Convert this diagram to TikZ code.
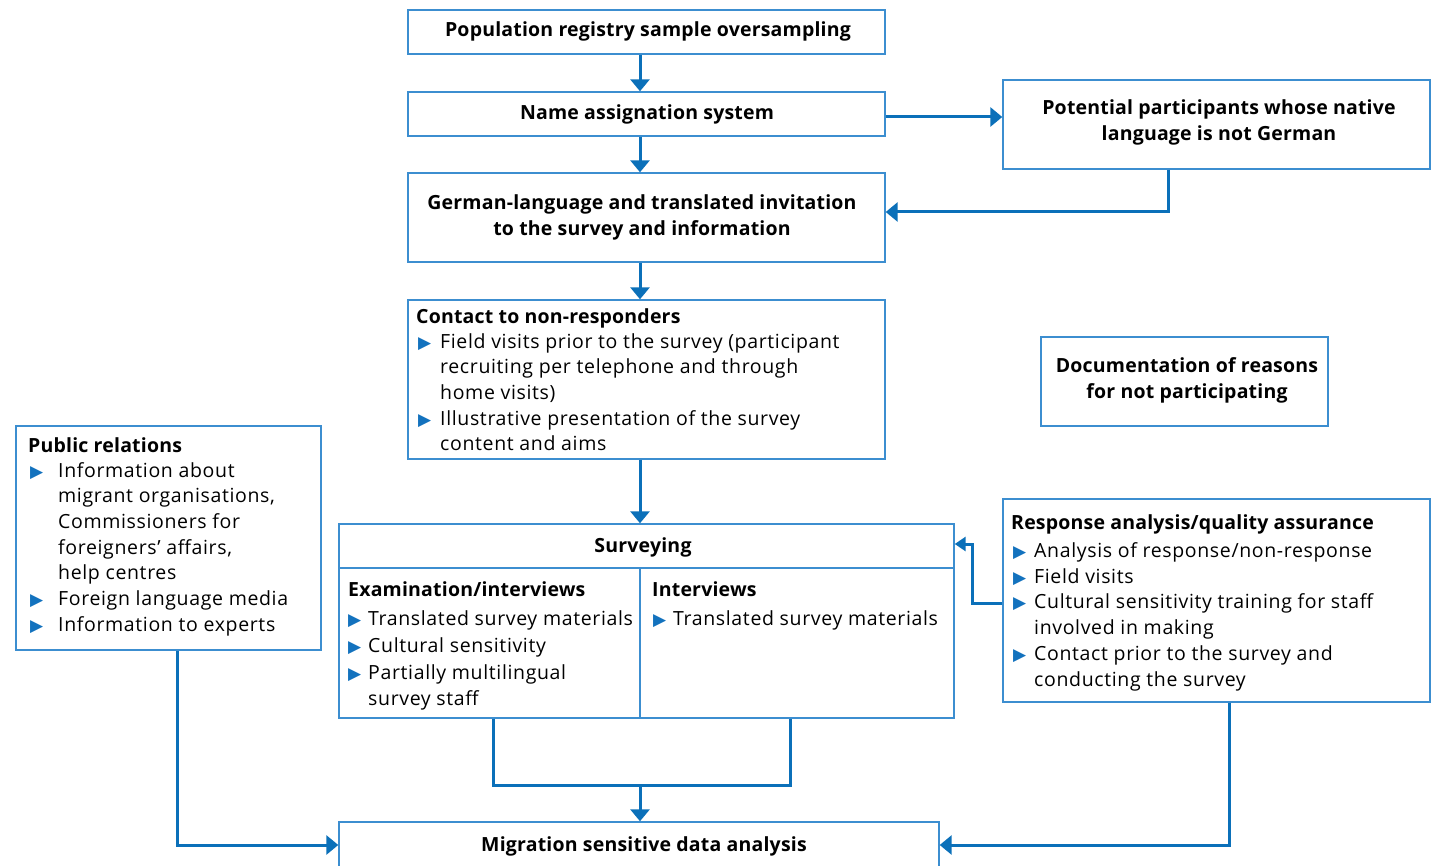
\documentclass[tikz,border=0pt]{standalone}
\usepackage{fontspec}
\setmainfont{Open Sans}[LetterSpace=3.3, BoldFeatures={LetterSpace=1.0}]
\newfontfamily\symf{DejaVu Sans}
\usetikzlibrary{arrows.meta}
\definecolor{cblue}{HTML}{0B70B9}
\definecolor{boxc}{HTML}{3C8ED0}
\definecolor{bulc}{HTML}{1372BE}
\newcommand\bul{\textcolor{bulc}{\fontsize{17}{17}\symf ▶}}
\begin{document}
\begin{tikzpicture}[x=1pt,y=-1pt,
  box/.style={draw=boxc, line width=1.4pt, inner sep=0pt, fill=white, align=center,
    font=\fontsize{19.5}{26}\selectfont\bfseries},
  txt/.style={inner sep=0pt, align=left, anchor=north west, font=\fontsize{19.5}{25.7}\selectfont},
  ctxt/.style={inner sep=0pt, align=center, font=\fontsize{19.5}{26}\selectfont\bfseries},
  plainline/.style={draw=cblue, line width=3pt},
  arr/.style={draw=cblue, line width=3pt, -{Triangle[width=19pt,length=12pt]}},
  inline/.style={draw=boxc, line width=1.4pt}]
\useasboundingbox (0,0) rectangle (1436,866);
% boxes
\node[box, minimum width=477pt, minimum height=44pt] (pop) at (646.5,32) {};
\node[ctxt] (poptext) at (648,31) {Population registry sample oversampling};
\node[box, minimum width=477pt, minimum height=44pt] (name) at (646.5,114) {};
\node[ctxt] (nametext) at (647,114) {Name assignation system};
\node[box, minimum width=427pt, minimum height=89pt] (pot) at (1216.5,124.5) {};
\node[ctxt] (pottext) at (1219,122) {Potential participants whose native\\language is not German};
\node[box, minimum width=477pt, minimum height=89pt] (ger) at (646.5,217.5) {};
\node[ctxt] (gertext) at (642,217) {German-language and translated invitation\\to the survey and information};
\node[box, minimum width=477pt, minimum height=159pt] (con) at (646.5,379.5) {};
\node[box, minimum width=287pt, minimum height=89pt] (doc) at (1184.5,381.5) {};
\node[ctxt] (doctext) at (1187,380) {Documentation of reasons\\for not participating};
\node[box, minimum width=305pt, minimum height=224pt] (pub) at (168.5,538) {};
\node[box, minimum width=615pt, minimum height=194pt] (sur) at (646.5,621) {};
\node[box, minimum width=427pt, minimum height=203pt] (resp) at (1216.5,600.5) {};
\node[box, minimum width=600pt, minimum height=46pt] (mig) at (639,845) {};
\node[ctxt] (migtext) at (644,846) {Migration sensitive data analysis};
% surveying inner lines
\draw[inline] (339,568) -- (954,568);
\draw[inline] (640,568) -- (640,718);
\node[ctxt] (survtext) at (643,547) {Surveying};
% contact text
\node[txt] (contitle) at (416,305) {\strut\textbf{Contact to non-responders}};
\node[txt] (conitems) at (418,330) {\strut\makebox[22pt][l]{\bul}Field visits prior to the survey (participant\\
\hspace*{22pt}recruiting per telephone and through\\
\hspace*{22pt}home visits)\\
\makebox[22pt][l]{\bul}Illustrative presentation of the survey\\
\hspace*{22pt}content and aims};
% public relations text
\node[txt] (pubtitle) at (28,434) {\strut\textbf{Public relations}};
\node[txt] (pubitems) at (30,459) {\strut\makebox[28pt][l]{\bul}Information about\\
\hspace*{28pt}migrant organisations,\\
\hspace*{28pt}Commissioners for\\
\hspace*{28pt}foreigners’ affairs,\\
\hspace*{28pt}help centres\\
\makebox[28pt][l]{\bul}Foreign language media\\
\makebox[28pt][l]{\bul}Information to experts};
% surveying columns
\node[txt] (extitle) at (348,578) {\strut\textbf{Examination/interviews}};
\node[txt, font=\fontsize{19.5}{26.7}\selectfont] (exitems) at (348,607) {\strut\makebox[20pt][l]{\bul}Translated survey materials\\
\makebox[20pt][l]{\bul}Cultural sensitivity\\
\makebox[20pt][l]{\bul}Partially multilingual\\
\hspace*{20pt}survey staff};
\node[txt] (intitle) at (652,578) {\strut\textbf{Interviews}};
\node[txt] (initems) at (653,607) {\strut\makebox[20pt][l]{\bul}Translated survey materials};
% response text
\node[txt] (resptitle) at (1011,511) {\strut\textbf{Response analysis/quality assurance}};
\node[txt, font=\fontsize{19.5}{25.8}\selectfont] (respitems) at (1013,539) {\strut\makebox[21pt][l]{\bul}Analysis of response/non-response\\
\makebox[21pt][l]{\bul}Field visits\\
\makebox[21pt][l]{\bul}Cultural sensitivity training for staff\\
\hspace*{21pt}involved in making\\
\makebox[21pt][l]{\bul}Contact prior to the survey and\\
\hspace*{21pt}conducting the survey};
% helper coordinates
\coordinate (mx) at (640,0);
\coordinate (y117) at (0,117);
\coordinate (k1) at (1168,212);
\coordinate (k2) at (972,603);
\coordinate (k3) at (972,544);
\coordinate (m1) at (493,785);
\coordinate (m2) at (790,785);
\coordinate (m3) at (640,785);
\coordinate (p1) at (177,845);
\coordinate (r1) at (1229,845);
% connectors
\draw[arr] (pop.south -| mx) -- (name.north -| mx);
\draw[arr] (name.south -| mx) -- (ger.north -| mx);
\draw[arr] (name.east |- y117) -- (pot.west |- y117);
\draw[arr] (pot.south -| k1) -- (k1) -- (ger.east |- k1);
\draw[arr] (ger.south -| mx) -- (con.north -| mx);
\draw[arr] (con.south -| mx) -- (sur.north -| mx);
\draw[arr, -{Triangle[width=14pt,length=11pt]}] (resp.west |- k2) -- (k2) -- (k3) -- (sur.east |- k3);
\draw[plainline] (sur.south -| m1) -- (m1) -- (m2) -- (sur.south -| m2);
\draw[arr] (m3) -- (mig.north -| m3);
\draw[arr] (pub.south -| p1) -- (p1) -- (mig.west |- p1);
\draw[arr] (resp.south -| r1) -- (r1) -- (mig.east |- r1);
\end{tikzpicture}
\end{document}
